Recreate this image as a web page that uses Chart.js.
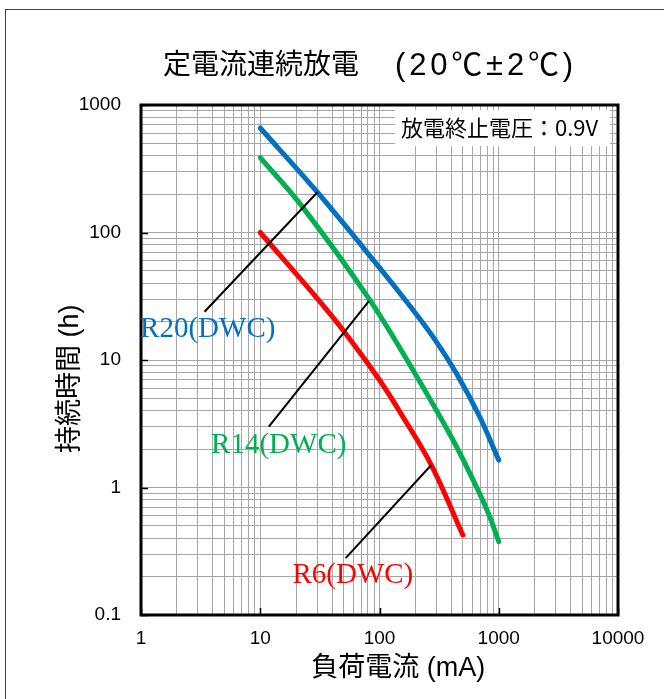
<!DOCTYPE html>
<html>
<head>
<meta charset="utf-8">
<script src="https://cdn.jsdelivr.net/npm/chart.js@4.4.0/dist/chart.umd.min.js"></script>
<style>
  html, body { margin: 0; padding: 0; background: #fff; }
  #wrap { position: relative; width: 664px; height: 699px; }
</style>
</head>
<body>
<div id="wrap"><canvas id="chart_discharge"></canvas></div>
<script>
// 負荷電流 (mA) vs 持続時間 (h)
var r20Current = [10, 30, 100, 180, 281, 441, 692, 1000];
var r20Hours = [660, 208, 53, 26.5, 15.2, 7.87, 3.59, 1.64];
var r14Current = [10, 22, 82, 190, 413, 690, 840, 1000];
var r14Hours = [386, 164, 30, 8.4, 2.36, 0.9, 0.59, 0.376];
var r6Current = [10, 29.5, 49.3, 100, 157, 272, 500];
var r6Hours = [100, 31, 17.2, 6.97, 3.59, 1.5, 0.424];

var xTicks = [1, 10, 100, 1000, 10000];
var yTicks = [0.1, 1, 10, 100, 1000];

// leader lines from curve to label, in data units
var r20Leader = [[30.3, 208], [3.41, 23.9]];
var r14Leader = [[81.5, 29.0], [11.8, 3.0]];
var r6Leader = [[272, 1.5], [52, 0.279]];

var seriesNames = ['R20(DWC)', 'R14(DWC)', 'R6(DWC)'];
var seriesColors = ['#0070C0', '#00B050', '#FF0000'];
var nameAnchors = [[3.63, 15.2], [14.3, 1.87], [59.8, 0.177]];

var sans = '"Liberation Sans", "Noto Sans CJK JP", sans-serif';

function toPoints(xs, ys) {
    return xs.map(function (x, i) { return {x: x, y: ys[i]}; });
}
function pairPoints(p) {
    return p.map(function (q) { return {x: q[0], y: q[1]}; });
}
// 1,2,...,9 in each decade
function decadeSteps(majors) {
    var out = [];
    for (var i = 0; i < majors.length - 1; i++) {
        for (var k = 1; k < 10; k++) out.push(+(majors[i] * k).toPrecision(6));
    }
    out.push(majors[majors.length - 1]);
    return out;
}
function isDecade(v) {
    var l = Math.log10(v);
    return Math.abs(l - Math.round(l)) < 1e-9;
}

function curve(name, xs, ys, color) {
    return {
        label: name,
        data: toPoints(xs, ys),
        borderColor: color,
        borderWidth: 5,
        borderCapStyle: 'round',
        borderJoinStyle: 'round',
        tension: 0.35,
        pointRadius: 0,
        fill: false,
        order: 2
    };
}
function leader(p) {
    return {
        data: pairPoints(p),
        borderColor: '#000',
        borderWidth: 2,
        pointRadius: 0,
        fill: false,
        order: 1
    };
}

var decorations = {
    id: 'decorations',
    beforeDraw: function (chart) {
        var ctx = chart.ctx;
        ctx.save();
        ctx.fillStyle = '#fff';
        ctx.fillRect(0, 0, chart.width, chart.height);
        ctx.restore();
    },
    afterDraw: function (chart) {
        var ctx = chart.ctx;
        var area = chart.chartArea;
        var xs = chart.scales.x, ys = chart.scales.y;
        ctx.save();

        // outer frame
        ctx.strokeStyle = '#404040';
        ctx.lineWidth = 1;
        ctx.strokeRect(5.5, 9.5, chart.width + 10, chart.height + 10);

        // title, two runs
        ctx.fillStyle = '#000';
        ctx.font = '28px ' + sans;
        ctx.textAlign = 'left';
        ctx.textBaseline = 'middle';
        ctx.fillText('定電流連続放電', 163, 66);
        var tail = '(20\u2103\u00b12\u2103)';
        ctx.font = '31px ' + sans;
        var w = ctx.measureText(tail).width;
        if ('letterSpacing' in ctx && w < 182) {
            ctx.letterSpacing = ((182 - w) / tail.length).toFixed(2) + 'px';
        }
        ctx.fillText(tail, 395, 66);
        if ('letterSpacing' in ctx) ctx.letterSpacing = '0px';

        // plot frame
        ctx.strokeStyle = '#000';
        ctx.lineWidth = 3;
        ctx.strokeRect(area.left, area.top, area.right - area.left, area.bottom - area.top);

        // major tick marks, inward
        ctx.lineWidth = 1.5;
        ctx.beginPath();
        xTicks.forEach(function (v) {
            var px = Math.round(xs.getPixelForValue(v)) + 0.5;
            ctx.moveTo(px, area.bottom);
            ctx.lineTo(px, area.bottom - 7);
        });
        yTicks.forEach(function (v) {
            var py = Math.round(ys.getPixelForValue(v)) + 0.5;
            ctx.moveTo(area.left, py);
            ctx.lineTo(area.left + 7, py);
        });
        ctx.stroke();

        // end-voltage note
        ctx.fillStyle = '#fff';
        ctx.fillRect(area.right - 223, area.top + 5, 215, 36);
        ctx.fillStyle = '#000';
        ctx.font = '22px "Noto Sans CJK JP", sans-serif';
        ctx.textAlign = 'left';
        ctx.textBaseline = 'middle';
        ctx.fillText('放電終止電圧：0.9V', area.right - 217, area.top + 23);

        // series names
        ctx.font = '29px "Liberation Serif", serif';
        ctx.textAlign = 'center';
        ctx.textBaseline = 'alphabetic';
        seriesNames.forEach(function (n, i) {
            ctx.fillStyle = seriesColors[i];
            ctx.fillText(n, xs.getPixelForValue(nameAnchors[i][0]), ys.getPixelForValue(nameAnchors[i][1]));
        });
        ctx.restore();
    }
};

var ctx = document.getElementById('chart_discharge').getContext('2d');
var chart = new Chart(ctx, {
    type: 'line',
    data: {
        datasets: [
            leader(r20Leader),
            leader(r14Leader),
            leader(r6Leader),
            curve(seriesNames[0], r20Current, r20Hours, seriesColors[0]),
            curve(seriesNames[1], r14Current, r14Hours, seriesColors[1]),
            curve(seriesNames[2], r6Current, r6Hours, seriesColors[2])
        ]
    },
    options: {
        responsive: true,
        maintainAspectRatio: false,
        animation: false,
        layout: {padding: {top: 105, right: 46, bottom: 0, left: 0}},
        plugins: {
            legend: {display: false},
            tooltip: {enabled: false},
            title: {display: false}
        },
        scales: {
            x: {
                type: 'logarithmic',
                position: 'bottom',
                min: 1,
                max: 10000,
                afterBuildTicks: function (scale) {
                    scale.ticks = decadeSteps(xTicks).map(function (v) { return {value: v}; });
                },
                afterFit: function (scale) { scale.height = 84; },
                ticks: {
                    autoSkip: false,
                    maxRotation: 0,
                    minRotation: 0,
                    padding: 12,
                    color: '#000',
                    font: {family: sans, size: 19},
                    callback: function (v) { return isDecade(v) ? String(v) : ''; }
                },
                grid: {color: '#a6a6a6', lineWidth: 1, drawTicks: false},
                border: {display: false},
                title: {
                    display: true,
                    text: '     負荷電流 (mA)',
                    color: '#000',
                    font: {family: sans, size: 27},
                    padding: {top: 0, bottom: 14}
                }
            },
            y: {
                type: 'logarithmic',
                position: 'left',
                min: 0.1,
                max: 1000,
                afterBuildTicks: function (scale) {
                    scale.ticks = decadeSteps(yTicks).map(function (v) { return {value: v}; });
                },
                afterFit: function (scale) { scale.width = 141; },
                ticks: {
                    autoSkip: false,
                    padding: 20,
                    color: '#000',
                    font: {family: sans, size: 19},
                    callback: function (v) { return isDecade(v) ? String(v) : ''; }
                },
                grid: {color: '#a6a6a6', lineWidth: 1, drawTicks: false},
                border: {display: false},
                title: {
                    display: true,
                    text: '持続時間 (h)     ',
                    color: '#000',
                    font: {family: sans, size: 27},
                    padding: {top: 54, bottom: 0}
                }
            }
        }
    },
    plugins: [decorations]
});
</script>
</body>
</html>
